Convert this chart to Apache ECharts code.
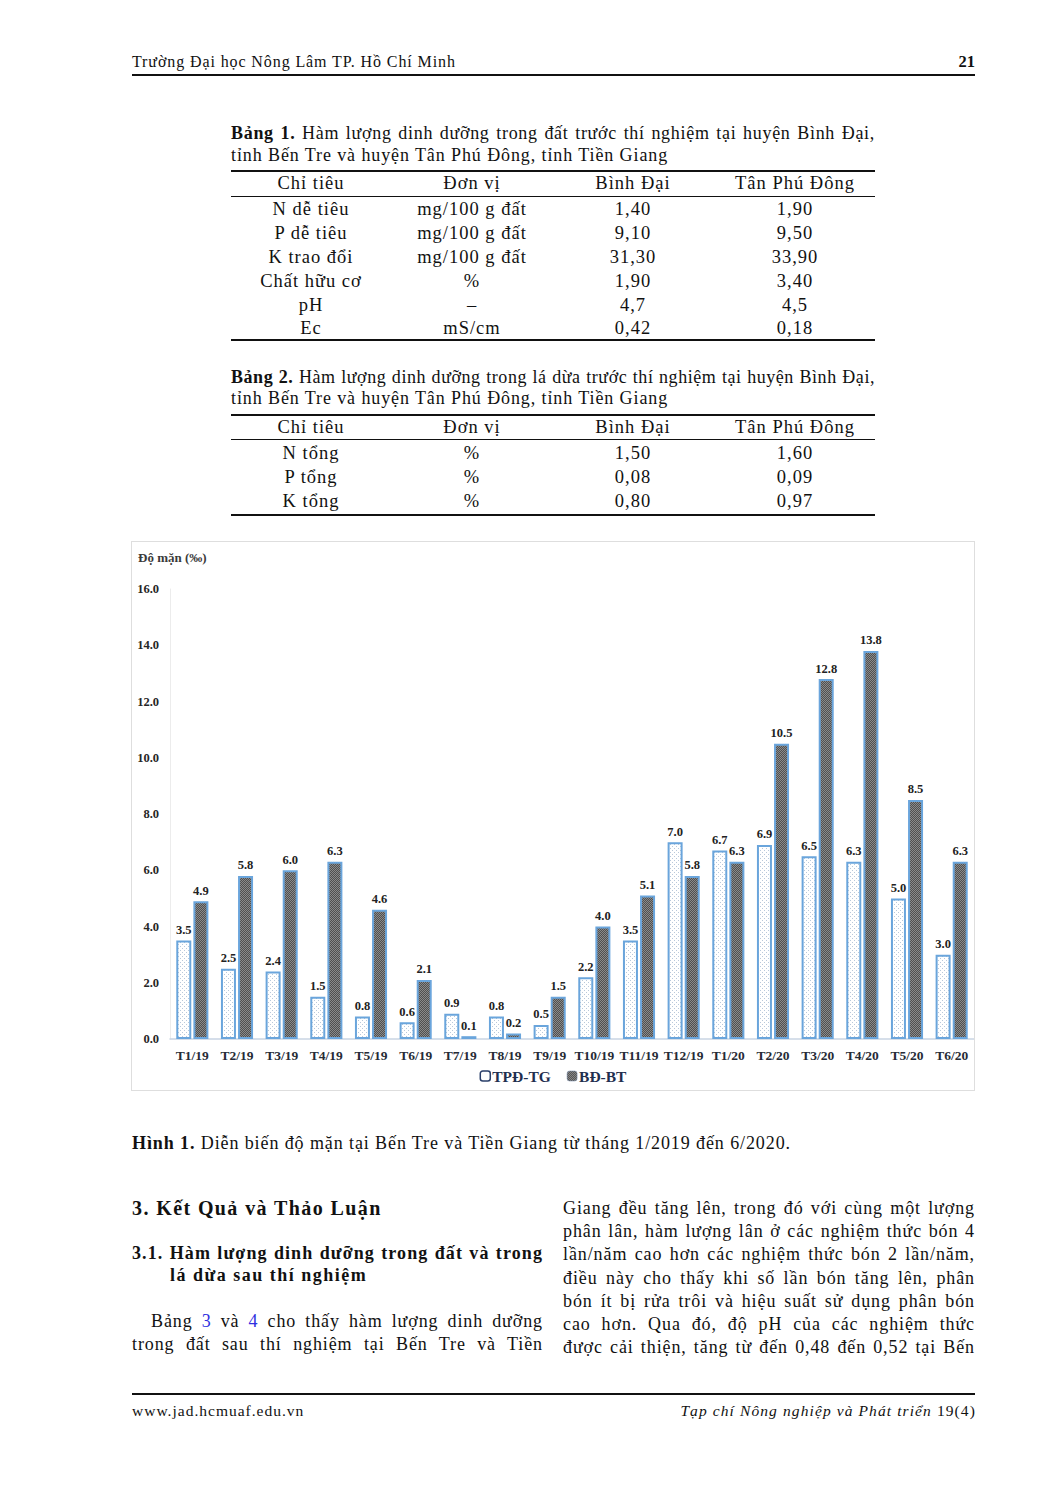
<!DOCTYPE html>
<html>
<head>
<meta charset="utf-8">
<script src="https://cdn.jsdelivr.net/npm/echarts@6/dist/echarts.min.js"></script>
<style>
  html, body { margin:0; padding:0; background:#fff; }
  body { width:1047px; height:1488px; position:relative; overflow:hidden;
         font-family:"Liberation Serif","Times New Roman",serif; color:#111; }
  .t { position:absolute; white-space:nowrap; }
  .j { position:absolute; white-space:nowrap; text-align:justify; text-align-last:justify; }
  .body { font-size:18px; line-height:18px; letter-spacing:0.9px; }
  .rule { position:absolute; background:#111; }
  .cell { position:absolute; text-align:center; white-space:nowrap; font-size:18.5px; line-height:18px; letter-spacing:1px; }
  b { font-weight:bold; }
  .blue { color:#2f2fe0; }
  #box { position:absolute; left:131px; top:541px; width:842px; height:548px; border:1px solid #dedede; }
  #chart { width:842px; height:548px; }
</style>
</head>
<body>
<!-- header -->
<div class="t" style="left:132px;top:54px;font-size:16px;line-height:16px;letter-spacing:0.9px;">Trường Đại học Nông Lâm TP. Hồ Chí Minh</div>
<div class="t" style="left:952px;top:54px;width:23px;text-align:right;font-size:16.5px;line-height:16px;font-weight:bold;">21</div>
<div class="rule" style="left:132px;top:74px;width:843px;height:2px;"></div>

<!-- Table 1 -->
<div class="j body" style="left:231px;top:124px;width:644px;letter-spacing:0.7px;"><b>Bảng 1.</b> Hàm lượng dinh dưỡng trong đất trước thí nghiệm tại huyện Bình Đại,</div>
<div class="t body" style="left:231px;top:146px;">tỉnh Bến Tre và huyện Tân Phú Đông, tỉnh Tiền Giang</div>
<div class="rule" style="left:231px;top:170px;width:644px;height:1.6px;"></div>
<div class="rule" style="left:231px;top:196px;width:644px;height:1px;"></div>
<div class="rule" style="left:231px;top:339px;width:644px;height:1.6px;"></div>
<div id="t1"></div>

<!-- Table 2 -->
<div class="j body" style="left:231px;top:368px;width:644px;letter-spacing:0.55px;"><b>Bảng 2.</b> Hàm lượng dinh dưỡng trong lá dừa trước thí nghiệm tại huyện Bình Đại,</div>
<div class="t body" style="left:231px;top:389px;">tỉnh Bến Tre và huyện Tân Phú Đông, tỉnh Tiền Giang</div>
<div class="rule" style="left:231px;top:414px;width:644px;height:1.6px;"></div>
<div class="rule" style="left:231px;top:439px;width:644px;height:1px;"></div>
<div class="rule" style="left:231px;top:514px;width:644px;height:1.6px;"></div>
<div id="t2"></div>

<!-- Chart -->
<div id="box"><div id="chart"></div></div>

<!-- Caption -->
<div class="t body" style="left:132px;top:1134px;"><b>Hình 1.</b> Diễn biến độ mặn tại Bến Tre và Tiền Giang từ tháng 1/2019 đến 6/2020.</div>

<!-- Left column -->
<div class="t" style="left:132px;top:1198px;font-size:20px;line-height:20px;font-weight:bold;letter-spacing:1.4px;">3. Kết Quả và Thảo Luận</div>
<div class="j" style="left:132px;top:1244px;width:411px;font-size:18px;line-height:18px;font-weight:bold;letter-spacing:1.1px;">3.1. Hàm lượng dinh dưỡng trong đất và trong</div>
<div class="t" style="left:170px;top:1266px;font-size:18px;line-height:18px;font-weight:bold;letter-spacing:1.5px;">lá dừa sau thí nghiệm</div>
<div class="j body" style="left:151px;top:1312px;width:392px;">Bảng <span class="blue">3</span> và <span class="blue">4</span> cho thấy hàm lượng dinh dưỡng</div>
<div class="j body" style="left:132px;top:1335px;width:411px;">trong đất sau thí nghiệm tại Bến Tre và Tiền</div>

<!-- Right column -->
<div class="j body" style="left:563px;top:1199px;width:412px;">Giang đều tăng lên, trong đó với cùng một lượng</div>
<div class="j body" style="left:563px;top:1222px;width:412px;">phân lân, hàm lượng lân ở các nghiệm thức bón 4</div>
<div class="j body" style="left:563px;top:1245px;width:412px;">lần/năm cao hơn các nghiệm thức bón 2 lần/năm,</div>
<div class="j body" style="left:563px;top:1269px;width:412px;">điều này cho thấy khi số lần bón tăng lên, phân</div>
<div class="j body" style="left:563px;top:1292px;width:412px;">bón ít bị rửa trôi và hiệu suất sử dụng phân bón</div>
<div class="j body" style="left:563px;top:1315px;width:412px;">cao hơn. Qua đó, độ pH của các nghiệm thức</div>
<div class="j body" style="left:563px;top:1338px;width:412px;">được cải thiện, tăng từ đến 0,48 đến 0,52 tại Bến</div>

<!-- Footer -->
<div class="rule" style="left:132px;top:1393px;width:843px;height:2px;"></div>
<div class="t" style="left:132px;top:1403px;font-size:15.5px;line-height:16px;letter-spacing:1px;">www.jad.hcmuaf.edu.vn</div>
<div class="t" style="left:560px;top:1403px;width:416px;text-align:right;font-size:15.5px;line-height:16px;letter-spacing:1.1px;"><i>Tạp chí Nông nghiệp và Phát triển</i> 19(4)</div>

<script>
// ---------- Table data ----------
const tableHeader = ['Chỉ tiêu', 'Đơn vị', 'Bình Đại', 'Tân Phú Đông'];
const table1Rows = [
  ['N dễ tiêu', 'mg/100 g đất', '1,40', '1,90'],
  ['P dễ tiêu', 'mg/100 g đất', '9,10', '9,50'],
  ['K trao đổi', 'mg/100 g đất', '31,30', '33,90'],
  ['Chất hữu cơ', '%', '1,90', '3,40'],
  ['pH', '–', '4,7', '4,5'],
  ['Ec', 'mS/cm', '0,42', '0,18']
];
const table2Rows = [
  ['N tổng', '%', '1,50', '1,60'],
  ['P tổng', '%', '0,08', '0,09'],
  ['K tổng', '%', '0,80', '0,97']
];

// ---------- Chart data ----------
const categories = ['T1/19','T2/19','T3/19','T4/19','T5/19','T6/19','T7/19','T8/19','T9/19',
                    'T10/19','T11/19','T12/19','T1/20','T2/20','T3/20','T4/20','T5/20','T6/20'];
const tpdTG = [3.5, 2.5, 2.4, 1.5, 0.8, 0.6, 0.9, 0.8, 0.5, 2.2, 3.5, 7.0, 6.7, 6.9, 6.5, 6.3, 5.0, 3.0];
const bdBT  = [4.9, 5.8, 6.0, 6.3, 4.6, 2.1, 0.1, 0.2, 1.5, 4.0, 5.1, 5.8, 6.3, 10.5, 12.8, 13.8, 8.5, 6.3];
const seriesNames = ['TPĐ-TG', 'BĐ-BT'];
const yAxisName = 'Độ mặn (‰)';
const yMin = 0, yMax = 16, yStep = 2;

// ---------- Tables ----------
const colCenters = [311, 472, 633, 795];
function buildTable(el, headerY, rowYs, rows) {
  let html = '';
  const all = [[headerY, tableHeader]].concat(rows.map((r, i) => [rowYs[i], r]));
  all.forEach(([y, r]) => {
    r.forEach((txt, c) => {
      html += '<div class="cell" style="left:' + (colCenters[c] - 100) + 'px;width:200px;top:' + (y - 9) + 'px;">' + txt + '</div>';
    });
  });
  document.getElementById(el).innerHTML = html;
}
buildTable('t1', 183, [209, 233, 257, 281, 305, 328], table1Rows);
buildTable('t2', 427, [453, 477, 501], table2Rows);

// ---------- Patterns ----------
function makePattern(w, h, draw) {
  const c = document.createElement('canvas');
  c.width = w; c.height = h;
  const ctx = c.getContext('2d');
  draw(ctx);
  return c.toDataURL();
}
const dotPattern = makePattern(4, 4, ctx => {
  ctx.fillStyle = '#ffffff'; ctx.fillRect(0, 0, 4, 4);
  ctx.fillStyle = '#b9c8da'; ctx.fillRect(0, 0, 1, 1); ctx.fillRect(2, 2, 1, 1);
});
const checkPattern = makePattern(2, 2, ctx => {
  ctx.fillStyle = '#505050'; ctx.fillRect(0, 0, 2, 2);
  ctx.fillStyle = '#8a8a8a'; ctx.fillRect(0, 0, 1, 1); ctx.fillRect(1, 1, 1, 1);
});

const serifFont = '"Liberation Serif","Times New Roman",serif';
const labelStyle = {
  show: true, position: 'top', distance: 4,
  fontFamily: serifFont, fontWeight: 'bold', fontSize: 12.5, color: '#222',
  formatter: p => p.value.toFixed(1)
};

const chart = echarts.init(document.getElementById('chart'), null, { renderer: 'svg' });
chart.setOption({
  animation: false,
  backgroundColor: '#ffffff',
  graphic: [{
    type: 'text', left: 6, top: 9,
    style: { text: yAxisName, font: 'bold 13px ' + serifFont, fill: '#3a3a3a' }
  }],
  grid: { left: 38, right: 0, top: 47, bottom: 51, containLabel: false },
  legend: {
    top: 526, left: 'center', padding: 0, itemWidth: 10, itemHeight: 10, itemGap: 16,
    textStyle: { fontFamily: serifFont, fontWeight: 'bold', fontSize: 15.5, color: '#1f2f4f', padding: [0, 0, 0, -3] },
    data: [
      { name: seriesNames[0], itemStyle: { color: '#fff', borderColor: '#2a3f6a', borderWidth: 1.5 } },
      { name: seriesNames[1], itemStyle: { color: { image: checkPattern, repeat: 'repeat' }, borderColor: '#6f87a8', borderWidth: 0.5 } }
    ]
  },
  xAxis: {
    type: 'category', data: categories,
    axisTick: { show: false },
    axisLine: { show: true, lineStyle: { color: '#c8d4e3', width: 1.5 } },
    axisLabel: { fontFamily: serifFont, fontWeight: 'bold', fontSize: 13.5, color: '#262b36', margin: 9, interval: 0 }
  },
  yAxis: {
    type: 'value', min: yMin, max: yMax, interval: yStep,
    splitLine: { show: false },
    axisTick: { show: false },
    axisLine: { show: true, lineStyle: { color: '#ececec', width: 1 } },
    axisLabel: { fontFamily: serifFont, fontWeight: 'bold', fontSize: 12.5, color: '#262626', margin: 11,
                 formatter: v => v.toFixed(1) }
  },
  series: [
    {
      name: seriesNames[0], type: 'bar', data: tpdTG, barWidth: 15, barGap: '14%',
      itemStyle: { color: { image: dotPattern, repeat: 'repeat' }, borderColor: '#6aa5dc', borderWidth: 2 },
      label: labelStyle
    },
    {
      name: seriesNames[1], type: 'bar', data: bdBT, barWidth: 15,
      itemStyle: { color: { image: checkPattern, repeat: 'repeat' }, borderColor: '#6aa5dc', borderWidth: 2 },
      label: labelStyle
    }
  ]
});
</script>
</body>
</html>
